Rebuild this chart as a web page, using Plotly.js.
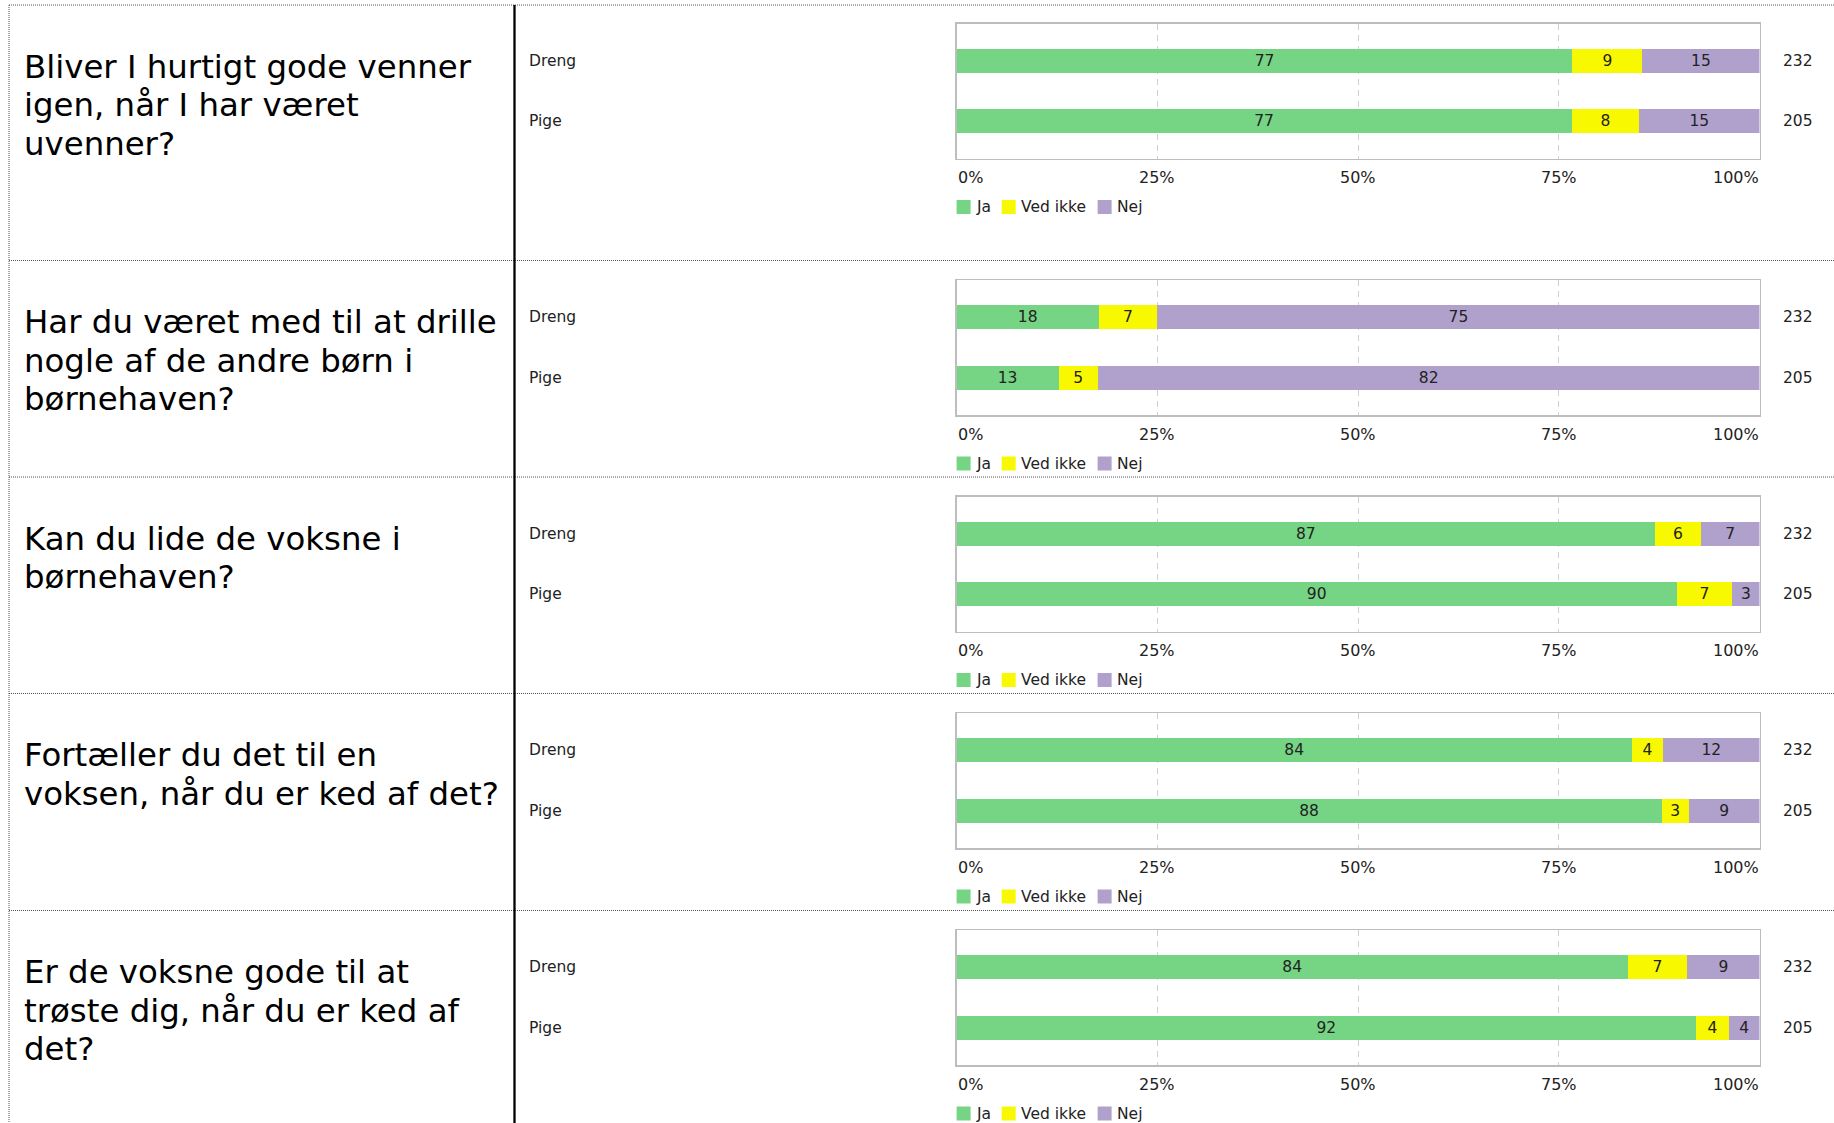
<!DOCTYPE html>
<html>
<head>
<meta charset="utf-8">
<script src="https://cdn.plot.ly/plotly-3.0.1.min.js"></script>
<style>
html,body{margin:0;padding:0;background:#fff;}
#chart{width:1834px;height:1123px;}
</style>
</head>
<body>
<div id="chart"></div>
<script>
// ---------- DATA ----------
const questions = [
  ["Bliver I hurtigt gode venner", "igen, når I har været", "uvenner?"],
  ["Har du været med til at drille", "nogle af de andre børn i", "børnehaven?"],
  ["Kan du lide de voksne i", "børnehaven?"],
  ["Fortæller du det til en", "voksen, når du er ked af det?"],
  ["Er de voksne gode til at", "trøste dig, når du er ked af", "det?"]
];
const categories = ["Dreng", "Pige"];
const seriesNames = ["Ja", "Ved ikke", "Nej"];
// percentages per question: [Dreng, Pige]
const ja      = [[76.7, 76.6], [17.7, 12.7], [87.0, 89.7], [84.1, 87.8], [83.6, 92.1]];
const vedIkke = [[8.7, 8.4],   [7.3, 4.9],   [5.7, 6.9],   [3.9, 3.4],   [7.4, 4.1]];
const nej     = [[14.6, 15.0], [75.0, 82.4], [7.3, 3.4],   [12.0, 8.8],  [9.0, 3.8]];
const nCounts = [232, 205];
const tickVals = [0, 25, 50, 75, 100];
const tickLabels = ["0%", "25%", "50%", "75%", "100%"];

// ---------- STYLE / LAYOUT ----------
const W = 1834, H = 1123;
const FONT = "DejaVu Sans, Verdana, sans-serif";
const colors = ["#76d485", "#f8f800", "#b0a0cc"];
const sepY = [5, 260.5, 477, 693.5, 910.5];
const boxTop = [23.5, 280, 496.5, 713, 930];
const boxH = 135;
const plotX0 = 956.6, plotX1 = 1759.5;
const px = v => v / W;
const py = v => 1 - v / H;

const series = [ja, vedIkke, nej];
const traces = [];
const annotations = [];
const shapes = [];
const layout = {
  width: W, height: H, autosize: false,
  margin: {l: 0, r: 0, t: 0, b: 0, pad: 0},
  paper_bgcolor: "#ffffff", plot_bgcolor: "#ffffff",
  barmode: "stack", showlegend: false,
  font: {family: FONT, size: 15.5, color: "#222"},
  annotations: annotations, shapes: shapes
};

// text measure for legend layout
const cv = document.createElement("canvas").getContext("2d");
cv.font = "15.5px 'DejaVu Sans'";

questions.forEach((q, i) => {
  const xa = "x" + (i ? i + 1 : "");
  const ya = "y" + (i ? i + 1 : "");
  const xk = "xaxis" + (i ? i + 1 : "");
  const yk = "yaxis" + (i ? i + 1 : "");
  layout[xk] = {
    domain: [px(plotX0), px(plotX1)], anchor: ya, range: [0, 100],
    tickvals: tickVals, showticklabels: false, ticks: "",
    showgrid: true, gridcolor: "#d0d0d0", gridwidth: 1, griddash: "6px,5px",
    showline: true, mirror: true, linecolor: "#bdbdbd", linewidth: 1.5,
    zeroline: false, fixedrange: true
  };
  layout[yk] = {
    domain: [py(boxTop[i] + boxH), py(boxTop[i])], anchor: xa,
    type: "category", categoryarray: categories, range: [1.62, -0.62],
    showticklabels: false, ticks: "", showgrid: false, zeroline: false,
    showline: true, mirror: true, linecolor: "#bdbdbd", linewidth: 1.5,
    fixedrange: true
  };
  series.forEach((s, k) => {
    traces.push({
      type: "bar", orientation: "h", xaxis: xa, yaxis: ya,
      name: seriesNames[k], y: categories, x: s[i], width: 0.4,
      marker: {color: colors[k], line: {width: 0}},
      text: s[i].map(v => String(Math.round(v))),
      textposition: "inside", insidetextanchor: "middle", textangle: 0,
      constraintext: "none",
      textfont: {family: FONT, size: 15.5, color: "#222"},
      hoverinfo: "skip", showlegend: false
    });
  });
  // category labels and N
  categories.forEach((c, j) => {
    annotations.push({xref: "paper", yref: ya, x: px(527), y: c, text: c,
      xanchor: "left", yanchor: "middle", showarrow: false,
      font: {family: FONT, size: 15.5, color: "#222"}});
    annotations.push({xref: "paper", yref: ya, x: px(1781), y: c, text: String(nCounts[j]),
      xanchor: "left", yanchor: "middle", showarrow: false,
      font: {family: FONT, size: 15.5, color: "#222"}});
  });
  // tick labels
  tickVals.forEach((t, j) => {
    annotations.push({xref: xa, yref: "paper", x: t, y: py(boxTop[i] + boxH + 19),
      text: tickLabels[j], showarrow: false, yanchor: "middle",
      xanchor: j === 0 ? "left" : (j === tickVals.length - 1 ? "right" : "center"),
      xshift: j === 0 ? -1 : (j === tickVals.length - 1 ? 1 : 0),
      font: {family: FONT, size: 16, color: "#222"}});
  });
  // legend
  const legY = boxTop[i] + boxH + 48.5;
  let lx = plotX0;
  seriesNames.forEach((nm, k) => {
    shapes.push({type: "rect", xref: "paper", yref: "paper",
      x0: px(lx), x1: px(lx + 14), y0: py(legY + 7), y1: py(legY - 7),
      fillcolor: colors[k], line: {width: 0}});
    annotations.push({xref: "paper", yref: "paper", x: px(lx + 17), y: py(legY),
      text: nm, xanchor: "left", yanchor: "middle", showarrow: false,
      font: {family: FONT, size: 15.5, color: "#222"}});
    lx += 18 + cv.measureText(nm).width + 13;
  });
  // question text
  q.forEach((line, j) => {
    annotations.push({xref: "paper", yref: "paper", x: px(21.5), y: py(sepY[i] + 61.5 + j * 38.6),
      text: line, xanchor: "left", yanchor: "middle", showarrow: false,
      font: {family: FONT, size: 32.4, color: "#000"}});
  });
  // row separator (dotted)
  shapes.push({type: "line", xref: "paper", yref: "paper",
    x0: px(9), x1: 1, y0: py(sepY[i]), y1: py(sepY[i]),
    line: {color: "#555", width: 1, dash: "1px,1px"}});
});
// left dotted border and solid divider
shapes.push({type: "line", xref: "paper", yref: "paper", x0: px(9), x1: px(9),
  y0: py(sepY[0]), y1: 0, line: {color: "#555", width: 1, dash: "1px,1px"}});
shapes.push({type: "line", xref: "paper", yref: "paper", x0: px(514.5), x1: px(514.5),
  y0: py(sepY[0]), y1: 0, line: {color: "#000", width: 2.3}});

Plotly.newPlot("chart", traces, layout, {displayModeBar: false, staticPlot: true});
</script>
</body>
</html>
